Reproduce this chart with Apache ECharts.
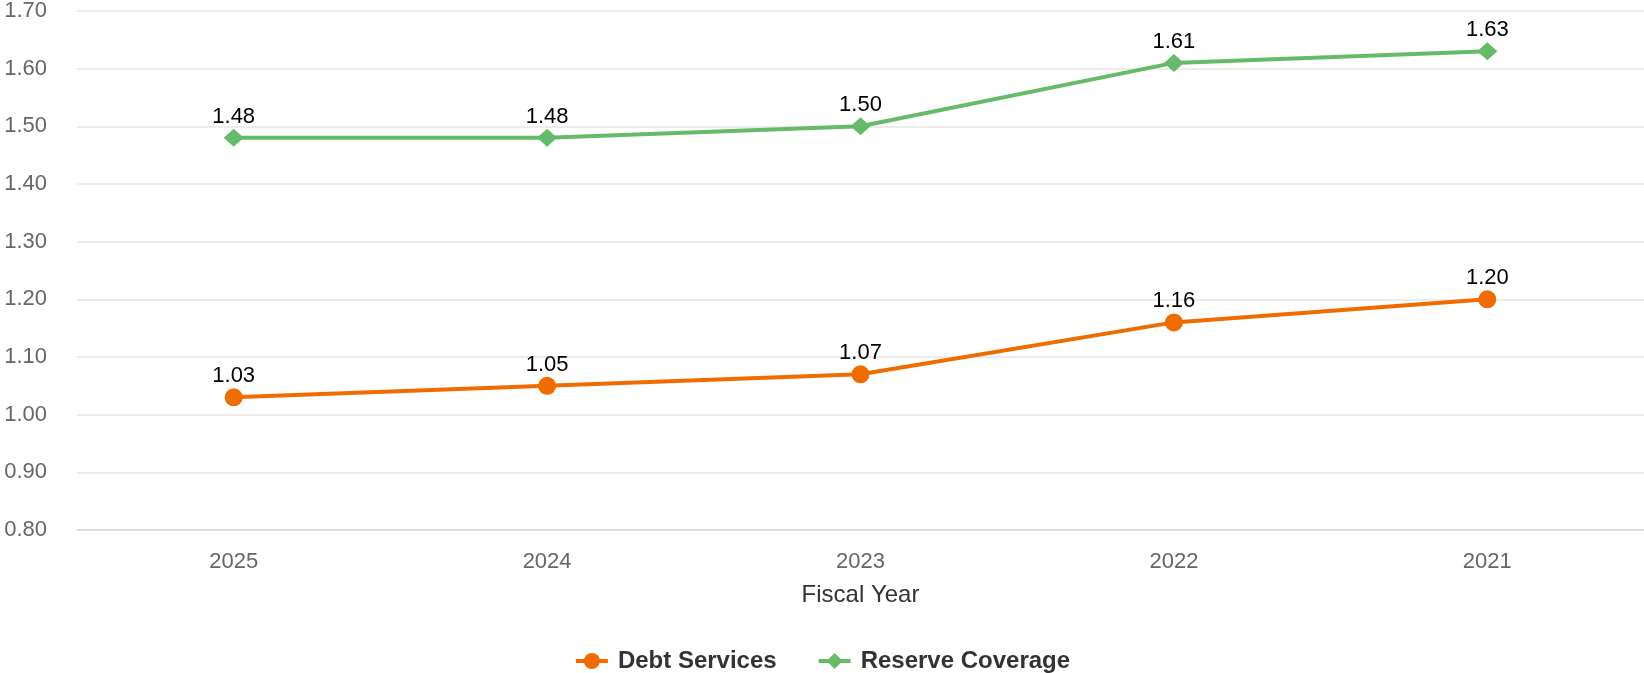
<!DOCTYPE html>
<html>
<head>
<meta charset="utf-8">
<script src="https://cdn.jsdelivr.net/npm/echarts@6/dist/echarts.min.js"></script>
<style>
  html, body { margin: 0; padding: 0; background: #ffffff; }
  #chart { width: 1644px; height: 673px; }
</style>
</head>
<body>
<div id="chart"></div>
<script>
// Fiscal years, newest on the right
const years = ['2025', '2024', '2023', '2022', '2021'];
// Coverage ratios per fiscal year
const debtServices = [1.03, 1.05, 1.07, 1.16, 1.20];
const reserveCoverage = [1.48, 1.48, 1.50, 1.61, 1.63];
// Value axis range
const yMin = 0.8;
const yMax = 1.7;
const yStep = 0.1;

const FONT = 'Arial, "Liberation Sans", Helvetica, sans-serif';
const ORANGE = '#ef6c00';
const GREEN = '#66bb6a';

const chart = echarts.init(document.getElementById('chart'), null, { renderer: 'canvas' });

const labelStyle = {
  show: true,
  position: 'top',
  distance: 1,
  color: '#000000',
  fontSize: 22,
  fontFamily: FONT,
  formatter: p => p.value.toFixed(2)
};

chart.setOption({
  animation: false,
  backgroundColor: '#ffffff',
  textStyle: { fontFamily: FONT },
  grid: { left: 77, right: 0, top: 7, bottom: 143, containLabel: false },
  legend: {
    top: 644,
    left: 'center',
    itemWidth: 32,
    itemHeight: 20,
    itemGap: 40,
    lineStyle: { width: 4 },
    textStyle: { fontSize: 24, fontWeight: 'bold', color: '#333333', fontFamily: FONT, padding: [0, 0, 0, 5] },
    data: ['Debt Services', 'Reserve Coverage']
  },
  xAxis: {
    type: 'category',
    data: years,
    boundaryGap: true,
    name: 'Fiscal Year',
    nameLocation: 'middle',
    nameGap: 53,
    nameTextStyle: { fontSize: 24, color: '#333333', fontFamily: FONT },
    axisLine: { show: true, lineStyle: { color: '#ccd6eb', width: 1.5 } },
    axisTick: { show: false },
    axisLabel: { fontSize: 22, color: '#666666', margin: 21, fontFamily: FONT },
    splitLine: { show: false }
  },
  yAxis: {
    type: 'value',
    min: yMin,
    max: yMax,
    interval: yStep,
    axisLine: { show: false },
    axisTick: { show: false },
    axisLabel: {
      fontSize: 22, color: '#666666', margin: 30, fontFamily: FONT,
      formatter: v => v.toFixed(2)
    },
    splitLine: { show: true, lineStyle: { color: '#e6e6e6', width: 1.5 } }
  },
  series: [
    {
      name: 'Debt Services',
      type: 'line',
      data: debtServices,
      symbol: 'circle',
      symbolSize: 18,
      lineStyle: { color: ORANGE, width: 4 },
      itemStyle: { color: ORANGE },
      label: labelStyle
    },
    {
      name: 'Reserve Coverage',
      type: 'line',
      data: reserveCoverage,
      symbol: 'diamond',
      symbolSize: [20, 18],
      lineStyle: { color: GREEN, width: 4 },
      itemStyle: { color: GREEN },
      label: labelStyle
    }
  ]
});
</script>
</body>
</html>
